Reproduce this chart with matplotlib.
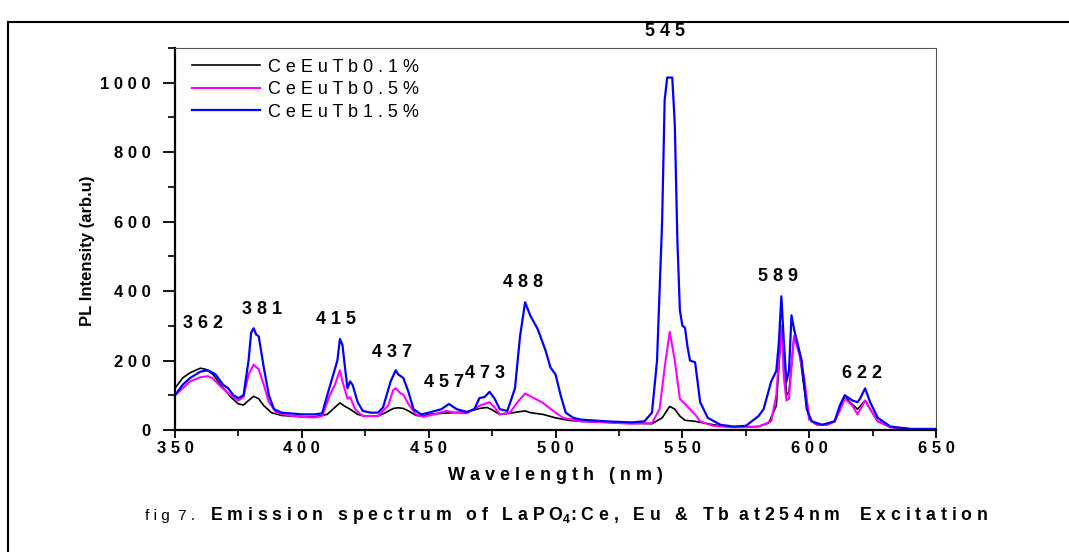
import matplotlib.pyplot as plt
from matplotlib.lines import Line2D
from matplotlib.ticker import MultipleLocator

plt.rcParams['font.family'] = ['Liberation Sans', 'DejaVu Sans']
plt.rcParams['mathtext.fontset'] = 'custom'
plt.rcParams['mathtext.rm'] = 'Liberation Sans:bold'
plt.rcParams['mathtext.bf'] = 'Liberation Sans:bold'


def sp(s):
    # spread letters like the original Origin export
    return ' '.join(s)


# PL spectra (wavelength nm, intensity arb.u)
wl_01 = [350, 353, 356, 360, 362, 365, 368, 372, 375, 377, 379, 381, 383, 385, 388, 392,
         400, 405, 410, 413, 415, 417, 419, 422, 425, 430, 433, 436, 438, 440, 442, 445,
         448, 450, 455, 460, 465, 470, 473, 475, 478, 482, 485, 488, 490, 495, 500, 505,
         510, 520, 530, 538, 542, 545, 547, 549, 551, 555, 560, 565, 570, 575, 580, 584,
         587, 589, 590, 591, 592, 594, 596, 598, 600, 603, 607, 610, 612, 614, 616, 619,
         622, 624, 627, 632, 640, 650]
int_01 = [120, 150, 165, 178, 175, 160, 130, 95, 75, 72, 85, 97, 90, 70, 50, 42,
          38, 38, 45, 65, 78, 68, 60, 45, 40, 40, 50, 62, 64, 62, 55, 42,
          40, 45, 48, 50, 52, 62, 65, 58, 45, 48, 52, 55, 50, 45, 35, 28,
          25, 22, 20, 18, 35, 68, 60, 40, 28, 25, 18, 12, 8, 8, 10, 20,
          70, 290, 250, 100, 110, 270, 230, 120, 30, 15, 15, 25, 60, 100, 80, 60,
          85, 60, 25, 8, 3, 3]

wl_05 = [350, 353, 356, 360, 363, 365, 368, 372, 375, 377, 379, 381, 383, 385, 387, 390,
         395, 400, 405, 408, 411, 413, 415, 416, 418, 419, 421, 424, 430, 434, 436, 437,
         439, 440, 442, 445, 448, 452, 457, 460, 465, 470, 474, 476, 478, 482, 485, 488,
         492, 495, 500, 503, 510, 520, 530, 538, 541, 543, 545, 547, 549, 551, 553, 555,
         557, 562, 570, 580, 585, 587, 589, 590, 591, 592, 594, 596, 598, 600, 603, 607,
         610, 612, 614, 617, 619, 622, 624, 627, 632, 640, 650]
int_05 = [100, 120, 140, 152, 155, 148, 125, 100, 85, 95, 160, 188, 175, 130, 80, 50,
          42, 38, 36, 40, 100, 130, 172, 140, 90, 95, 60, 40, 40, 70, 115, 120,
          105, 102, 75, 45, 38, 45, 55, 50, 48, 70, 80, 65, 45, 50, 80, 105,
          90, 78, 50, 35, 25, 22, 18, 20, 60, 180, 283, 200, 90, 75, 60, 45,
          25, 12, 8, 10, 25, 100, 300, 150, 85, 90, 270, 220, 150, 30, 15, 15,
          25, 55, 90, 70, 45, 85, 60, 25, 8, 3, 3]

wl_15 = [350, 353, 356, 360, 363, 366, 369, 371, 373, 375, 377, 379, 380, 381, 382, 383,
         385, 387, 389, 392, 400, 405, 408, 410, 412, 414, 415, 416, 417, 418, 419, 420,
         422, 424, 427, 430, 432, 435, 437, 438, 440, 442, 444, 447, 450, 455, 458, 461,
         465, 468, 470, 472, 474, 476, 478, 481, 484, 486, 488, 490, 493, 496, 498, 500,
         502, 504, 507, 510, 520, 530, 535, 538, 540, 542, 543, 544, 546, 547, 548, 549,
         550, 551, 552, 553, 555, 557, 560, 565, 570, 575, 580, 582, 585, 587, 588, 589,
         590, 591, 592, 593, 594, 595, 597, 599, 601, 605, 610, 612, 614, 617, 619, 620,
         622, 624, 627, 632, 640, 650]
int_15 = [100, 130, 150, 168, 172, 160, 130, 120, 100, 92, 100, 200, 280, 293, 275, 270,
          180, 100, 60, 50, 45, 45, 48, 100, 150, 200, 262, 245, 180, 120, 140, 130,
          80, 55, 50, 50, 65, 140, 172, 160, 150, 110, 60, 45, 50, 60, 75, 60,
          52, 60, 92, 95, 110, 90, 60, 55, 120, 270, 368, 330, 290, 230, 180, 160,
          100, 50, 35, 30, 25, 22, 25, 50, 200, 600, 950, 1015, 1015, 880, 550, 345,
          300, 295, 240, 200, 195, 80, 35, 15, 10, 12, 40, 60, 140, 170, 250, 385,
          250, 140, 170, 330, 290, 260, 200, 60, 25, 15, 25, 70, 100, 85, 80, 90,
          120, 80, 35, 10, 3, 3]

series_labels = ['CeEuTb0.1%', 'CeEuTb0.5%', 'CeEuTb1.5%']

peak_names = ['362', '381', '415', '437', '457', '473', '488', '545', '589', '622']
peak_x = [361, 384.3, 413.5, 435.5, 456, 472.2, 487.2, 543, 587.7, 620.8]
peak_y = [308, 346, 317, 222, 138, 164, 426, 1148, 441, 164]

fig = plt.figure(figsize=(10.69, 5.52), dpi=100)
ax = fig.add_axes([0.1637, 0.221, 0.712, 0.692])

ax.plot(wl_01, int_01, color='black', lw=1.2, label=sp(series_labels[0]))
ax.plot(wl_05, int_05, color='#ff00ff', lw=1.5, label=sp(series_labels[1]))
ax.plot(wl_15, int_15, color='#0000ff', lw=1.6, label=sp(series_labels[2]))

ax.set_xlim(350, 650)
ax.set_ylim(0, 1100)
ax.xaxis.set_minor_locator(MultipleLocator(25))
ax.yaxis.set_minor_locator(MultipleLocator(100))
ax.tick_params(axis='x', which='major', direction='out', length=6, width=1.3, pad=2)
ax.tick_params(axis='x', which='minor', direction='out', length=4, width=1.2)
ax.tick_params(axis='y', which='major', direction='out', length=8.5, width=1.3, pad=9)
ax.tick_params(axis='y', which='minor', direction='out', length=5, width=1.2)
ax.set_xticks(range(350, 651, 50))
ax.set_xticklabels([sp(str(v)) for v in range(350, 651, 50)], fontsize=12, fontweight='bold')
ax.set_yticks(range(0, 1001, 200))
ax.set_yticklabels([sp(str(v)) for v in range(0, 1001, 200)], fontsize=12, fontweight='bold')

for side in ['left', 'bottom']:
    ax.spines[side].set_linewidth(1.6)
for side in ['top', 'right']:
    ax.spines[side].set_color('#555555')
    ax.spines[side].set_linewidth(0.8)

ax.set_xlabel(sp('Wavelength') + '   ' + sp('(nm)'), fontsize=13, fontweight='bold')
ax.xaxis.set_label_coords(0.5, -0.097)
ax.set_ylabel('PL Intensity (arb.u)', fontsize=12, fontweight='bold')
ax.yaxis.set_label_coords(-0.105, 0.47)

for name, px, py in zip(peak_names, peak_x, peak_y):
    ax.text(px, py, sp(name), ha='center', va='center', fontsize=13,
            fontweight='bold', clip_on=False)

ax.legend(loc='upper left', bbox_to_anchor=(0.022, 0.972), frameon=False,
          fontsize=13, handlelength=3.8, handletextpad=0.45, labelspacing=0.3,
          borderaxespad=0, borderpad=0)

# caption
cap_y = 1 - 520 / 552
fig.text(145 / 1069, cap_y, sp('fig') + '  ' + sp('7.'), fontsize=11, va='baseline')
caption = (sp('Emission') + '   ' + sp('spectrum') + '   ' + sp('of') + '   ' + sp('LaPO')
           + r'$_{4}$' + sp(':Ce, Eu & Tb') + '  ' + sp('at') + ' ' + sp('254nm')
           + '    ' + sp('Excitation'))
fig.text(210 / 1069, cap_y, caption, fontsize=12.7, fontweight='bold', va='baseline')

# outer frame of the pasted figure
fig.add_artist(Line2D([8 / 1069, 1.0], [1 - 22 / 552, 1 - 22 / 552], color='black', lw=1.5))
fig.add_artist(Line2D([8 / 1069, 8 / 1069], [0, 1 - 22 / 552], color='black', lw=1.5))

fig.savefig('out.png', dpi=100)
